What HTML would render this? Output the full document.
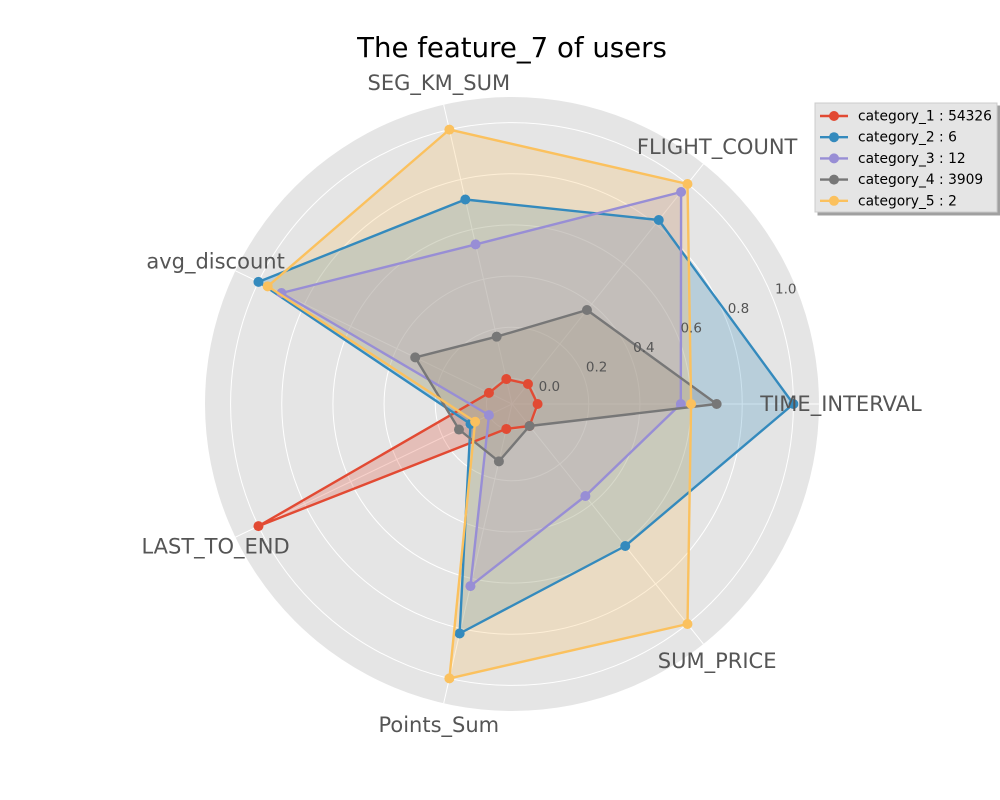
<!DOCTYPE html>
<html><head><meta charset="utf-8"><style>
body{margin:0;background:#fff;}
svg{display:block;font-family:"DejaVu Sans","Liberation Sans",sans-serif;}
</style></head><body>
<svg id="chart" width="1000" height="800" viewBox="0 0 1000 800">
<defs><filter id="sh" x="-10%" y="-10%" width="130%" height="130%"><feDropShadow dx="3" dy="3" stdDeviation="0" flood-color="#888" flood-opacity="0.8"/></filter></defs>
<text x="512" y="57" text-anchor="middle" font-size="27.6" fill="#000">The feature_7 of users</text>
<g id="plot"></g>
<g id="legend"></g>
</svg>
<script>
const axesLabels = ["TIME_INTERVAL","FLIGHT_COUNT","SEG_KM_SUM","avg_discount","LAST_TO_END","Points_Sum","SUM_PRICE"];
const seriesNames = ["category_1 : 54326","category_2 : 6","category_3 : 12","category_4 : 3909","category_5 : 2"];
const cat1 = [0.0, 0.0, 0.0, 0.0, 1.0, 0.0, 0.01];
const cat2 = [1.0, 0.82, 0.72, 1.0, 0.08, 0.82, 0.61];
const cat3 = [0.56, 0.96, 0.54, 0.90, 0.0, 0.63, 0.36];
const cat4 = [0.70, 0.37, 0.17, 0.32, 0.13, 0.13, 0.01];
const cat5 = [0.60, 1.0, 1.0, 0.96, 0.06, 1.0, 1.0];
const tickValues = [0.0, 0.2, 0.4, 0.6, 0.8, 1.0];
const tickLabels = ["0.0","0.2","0.4","0.6","0.8","1.0"];
const series = [cat1,cat2,cat3,cat4,cat5];
const colors = ["#E24A33","#348ABD","#988ED5","#777777","#FBC15E"];

const NS="http://www.w3.org/2000/svg";
const cx=512, cy=404, R=307, vmin=-0.1, vmax=1.1;
function rScale(v){return R*(v-vmin)/(vmax-vmin);}
function ang(i){return i*2*Math.PI/axesLabels.length;}
function pt(i,v){const r=rScale(v),a=ang(i);return [cx+r*Math.cos(a), cy-r*Math.sin(a)];}
function mk(tag,attrs,parent){const e=document.createElementNS(NS,tag);for(const k in attrs)e.setAttribute(k,attrs[k]);parent.appendChild(e);return e;}
const plot=document.getElementById('plot');
let bg=mk('circle',{cx:cx,cy:cy,r:R,fill:'#E5E5E5'},plot);


tickValues.forEach((v,i)=>{
  const c=mk('circle',{cx:cx,cy:cy,r:rScale(v),fill:'none',stroke:'#fff','stroke-width':1},plot);
  
  
});
axesLabels.forEach((l,i)=>{
  const a=ang(i);
  const s=mk('line',{x1:cx,y1:cy,x2:cx+R*Math.cos(a),y2:cy-R*Math.sin(a),stroke:'#fff','stroke-width':1},plot);
  
  
});
const fillLayer=mk('g',{},plot);


const lineLayer=mk('g',{},plot);


series.forEach((d,si)=>{
  const pts=d.map((v,i)=>pt(i,v));
  const ps=pts.map(p=>p[0].toFixed(1)+','+p[1].toFixed(1)).join(' ');
  const area=mk('polygon',{points:ps,fill:colors[si],'fill-opacity':0.25,stroke:'none'},fillLayer);
  
  
  const g=mk('g',{},lineLayer);
  
  
  const poly=mk('polygon',{points:ps,fill:'none',stroke:colors[si],'stroke-width':2.4,'stroke-linejoin':'round'},g);
  
  
  pts.forEach((p,i)=>{
    const c=mk('circle',{cx:p[0],cy:p[1],r:5,fill:colors[si]},g);
    
    
  });
});
tickValues.forEach((v,i)=>{
  const a=22.5*Math.PI/180, r=rScale(v);
  const t=mk('text',{x:cx+r*Math.cos(a)+3,y:cy-r*Math.sin(a)-3,'font-size':13.5,fill:'#555'},plot);
  t.textContent=tickLabels[i];
  
  
});
axesLabels.forEach((l,i)=>{
  const a=ang(i), r=329;
  const t=mk('text',{x:cx+r*Math.cos(a),y:cy-r*Math.sin(a)+7,'font-size':21,fill:'#555','text-anchor':'middle'},plot);
  t.textContent=l;
  
  
});
const lg=document.getElementById('legend');


const box=mk('rect',{x:815,y:103,width:182,height:109,fill:'#E5E5E5',stroke:'#ccc','stroke-width':1,filter:'url(#sh)'},lg);


seriesNames.forEach((n,i)=>{
  const y=116+i*21.2;
  const g=mk('g',{},lg);
  
  
  mk('line',{x1:820,y1:y,x2:848,y2:y,stroke:colors[i],'stroke-width':2.4},g);
  mk('circle',{cx:834,cy:y,r:5,fill:colors[i]},g);
  const t=mk('text',{x:858,y:y+4.5,'font-size':13.8,fill:'#000'},g);
  t.textContent=n;
});
</script>
</body></html>
